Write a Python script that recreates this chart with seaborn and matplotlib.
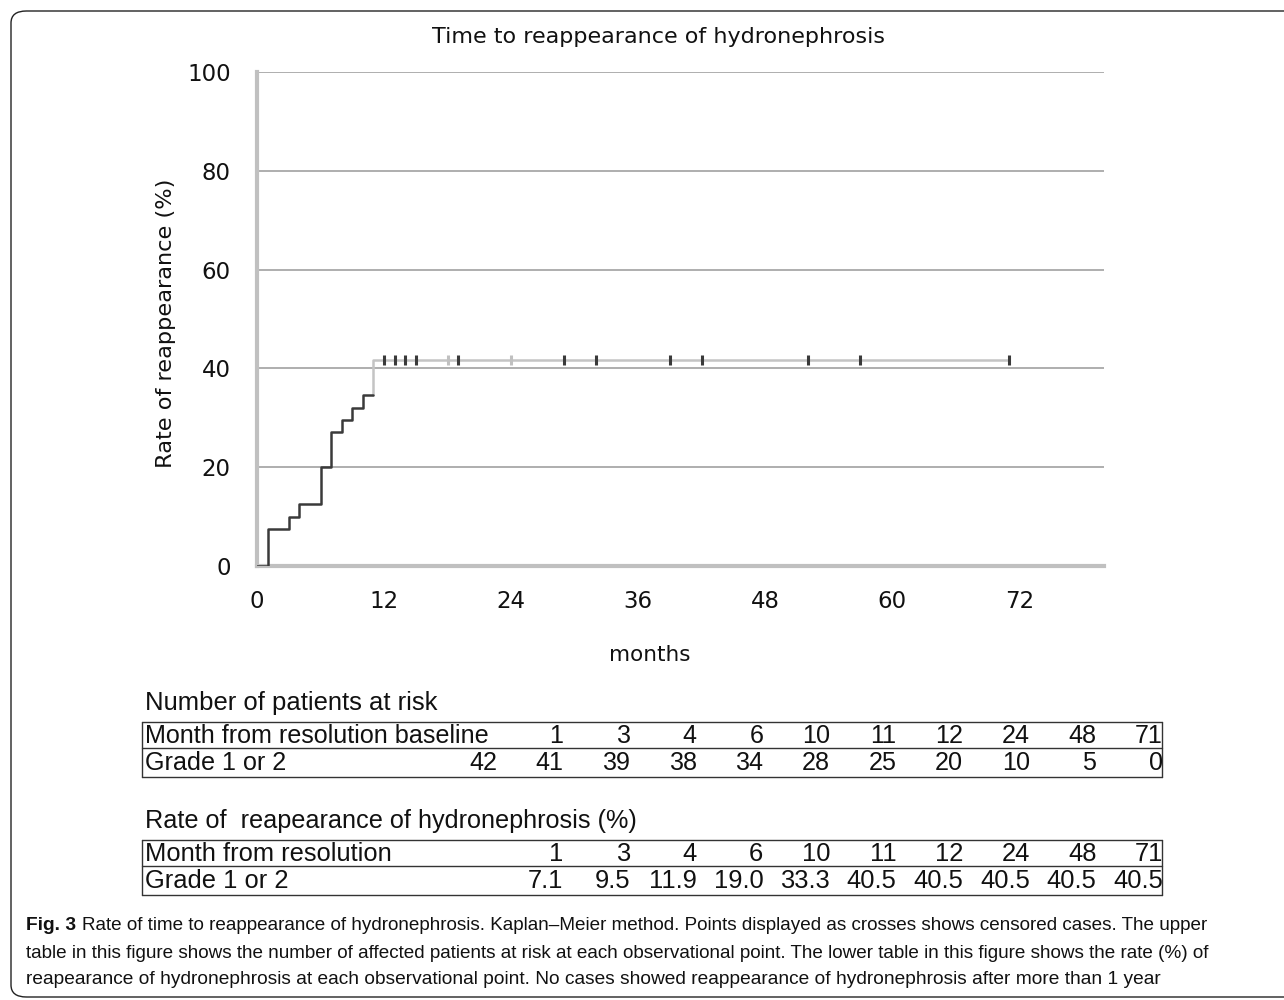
import matplotlib
matplotlib.use("Agg")
import matplotlib.pyplot as plt
import seaborn as sns
import pandas as pd
from matplotlib.lines import Line2D
from matplotlib.patches import FancyBboxPatch

# ---------------- data ----------------
km_months = [0, 1, 3, 4, 6, 7, 8, 9, 10, 11]
km_rates = [0, 7.5, 10.0, 12.5, 20.0, 27.2, 29.6, 32.0, 34.6, 34.6]
late_months = [11, 11, 71]
late_rates = [34.6, 41.7, 41.7]
censor_months = [12, 13, 14, 15, 18, 19, 24, 29, 32, 39, 42, 52, 57, 71]
censor_light = [False, False, False, False, True, False, True, False, False, False, False, False, False, False]
censor_rate = 41.7

x_ticks = [0, 12, 24, 36, 48, 60, 72]
y_ticks = [0, 20, 40, 60, 80, 100]

table_months = ["1", "3", "4", "6", "10", "11", "12", "24", "48", "71"]
at_risk = ["42", "41", "39", "38", "34", "28", "25", "20", "10", "5", "0"]
rates_tbl = ["7.1", "9.5", "11.9", "19.0", "33.3", "40.5", "40.5", "40.5", "40.5", "40.5"]

title = "Time to reappearance of hydronephrosis"
ylabel = "Rate of reappearance (%)"
xlabel = "months"
t1_title = "Number of patients at risk"
t1_row1 = "Month from resolution baseline"
t2_title = "Rate of  reapearance of hydronephrosis (%)"
t2_row1 = "Month from resolution"
row2 = "Grade 1 or 2"
cap_bold = "Fig. 3"
cap_lines = [
    "Rate of time to reappearance of hydronephrosis. Kaplan\u2013Meier method. Points displayed as crosses shows censored cases. The upper",
    "table in this figure shows the number of affected patients at risk at each observational point. The lower table in this figure shows the rate (%) of",
    "reapearance of hydronephrosis at each observational point. No cases showed reappearance of hydronephrosis after more than 1 year",
]

# ---------------- style ----------------
sns.set_theme(style="white")
plt.rcParams['font.family'] = ['DejaVu Sans']

W, H = 1284, 1000
fig = plt.figure(figsize=(W / 100, H / 100), dpi=100)
renderer = fig.canvas.get_renderer()


def fx(x):
    return x / W


def fy(y):
    return 1 - y / H


def fit(t, target_w):
    """Shrink/grow a text's font size so that its rendered width matches target_w pixels."""
    w = t.get_window_extent(renderer).width
    if w > 0:
        t.set_fontsize(t.get_fontsize() * target_w / w)
    return t


ax = fig.add_axes([fx(257), fy(566), fx(1104) - fx(257), fy(72) - fy(566)])

df_early = pd.DataFrame({"month": km_months, "rate": km_rates})
df_late = pd.DataFrame({"month": late_months, "rate": late_rates})
df_cens = pd.DataFrame({"month": censor_months, "rate": [censor_rate] * len(censor_months),
                        "light": censor_light})

for yv in y_ticks[1:]:
    ax.axhline(yv, color="#a8a8a8", lw=1.3, zorder=1)

sns.lineplot(data=df_late, x="month", y="rate", ax=ax, estimator=None, sort=False,
             drawstyle="steps-post", color="#c4c4c4", lw=1.8, zorder=3)
sns.lineplot(data=df_early, x="month", y="rate", ax=ax, estimator=None, sort=False,
             drawstyle="steps-post", color="#3a3a3a", lw=1.8, zorder=4)
sns.scatterplot(data=df_cens[~df_cens.light], x="month", y="rate", ax=ax, marker="|",
                s=60, linewidth=2.2, color="#3a3a3a", zorder=5)
sns.scatterplot(data=df_cens[df_cens.light], x="month", y="rate", ax=ax, marker="|",
                s=60, linewidth=2.2, color="#c0c0c0", zorder=5)

ax.set_xlim(0, 80)
ax.set_ylim(0, 100)
ax.set_xticks(x_ticks)
ax.set_yticks(y_ticks)
ax.set_xlabel("")
ax.set_ylabel("")
for s in ["top", "right"]:
    ax.spines[s].set_visible(False)
for s in ["left", "bottom"]:
    ax.spines[s].set_color("#c0c0c0")
    ax.spines[s].set_linewidth(3)
ax.tick_params(axis="both", which="both", direction="out", color="#c0c0c0",
               width=2.5, labelsize=16.5, labelcolor="#111111")
ax.tick_params(axis="y", length=5, pad=14)
ax.tick_params(axis="x", length=7, pad=10)
ax.grid(False)

# titles / labels
t = fig.text(fx(658), fy(37), title, ha="center", va="center", fontsize=15, color="#111111")
fit(t, 453)
t = fig.text(fx(166), fy(323), ylabel, ha="center", va="center", rotation=90, fontsize=15,
             color="#111111")
t.set_fontsize(16.2)
t = fig.text(fx(650), fy(655), xlabel, ha="center", va="center", fontsize=15.5, color="#111111")

# ---------------- tables ----------------
tfam = ['Liberation Sans', 'DejaVu Sans']
tsize = 17
col_right = [497 + 66.6 * k for k in range(11)]
left_x, right_x = 142, 1162


def hline(y, x0=left_x, x1=right_x, lw=1.0):
    fig.add_artist(Line2D([fx(x0), fx(x1)], [fy(y), fy(y)], color="#333333", lw=lw))


def vline(x, y0, y1, lw=1.0):
    fig.add_artist(Line2D([fx(x), fx(x)], [fy(y0), fy(y1)], color="#333333", lw=lw))


def draw_table(top, title_txt, title_w, r1_label, r1_w, r1_vals, r1_start, r2_vals, r2_start):
    mid, bot = top + 26, top + 55
    tt = fig.text(fx(145), fy(top - 19), title_txt, ha="left", va="center", fontsize=tsize,
                  family=tfam, color="#111111")
    fit(tt, title_w)
    hline(top)
    hline(mid)
    hline(bot)
    vline(left_x, top, bot)
    vline(right_x, top, bot)
    lt = fig.text(fx(145), fy((top + mid) / 2 + 1), r1_label, ha="left", va="center",
                  fontsize=tsize, family=tfam, color="#111111")
    fit(lt, r1_w)
    size = lt.get_fontsize()
    fig.text(fx(145), fy((mid + bot) / 2 + 1), row2, ha="left", va="center",
             fontsize=size, family=tfam, color="#111111")
    for i, v in enumerate(r1_vals):
        fig.text(fx(col_right[r1_start + i]), fy((top + mid) / 2 + 1), v, ha="right",
                 va="center", fontsize=size, family=tfam, color="#111111")
    for i, v in enumerate(r2_vals):
        fig.text(fx(col_right[r2_start + i]), fy((mid + bot) / 2 + 1), v, ha="right",
                 va="center", fontsize=size, family=tfam, color="#111111")


draw_table(722, t1_title, 292, t1_row1, 345, table_months, 1, at_risk, 0)
draw_table(840, t2_title, 492, t2_row1, 247, table_months, 1, rates_tbl, 1)

# ---------------- caption ----------------
cfam = ['Liberation Sans', 'DejaVu Sans']
csize = 13
tb = fig.text(fx(26), fy(925), cap_bold, ha="left", va="center", fontsize=csize,
              family=cfam, weight="bold", color="#111111")
fit(tb, 50)
c0 = fig.text(fx(82), fy(925), cap_lines[0], ha="left", va="center", fontsize=csize,
              family=cfam, color="#111111")
fit(c0, 1128)
c1 = fig.text(fx(26), fy(953), cap_lines[1], ha="left", va="center", fontsize=csize,
              family=cfam, color="#111111")
fit(c1, 1185)
c2 = fig.text(fx(26), fy(980), cap_lines[2], ha="left", va="center", fontsize=csize,
              family=cfam, color="#111111")
fit(c2, 1130)

# rounded outer frame
frame = FancyBboxPatch((fx(11), fy(997)), fx(1400) - fx(11), fy(11) - fy(997),
                       boxstyle="round,pad=0,rounding_size=0.012", transform=fig.transFigure,
                       fill=False, edgecolor="#222222", lw=1.0)
fig.add_artist(frame)

fig.savefig("out.png", dpi=100)
